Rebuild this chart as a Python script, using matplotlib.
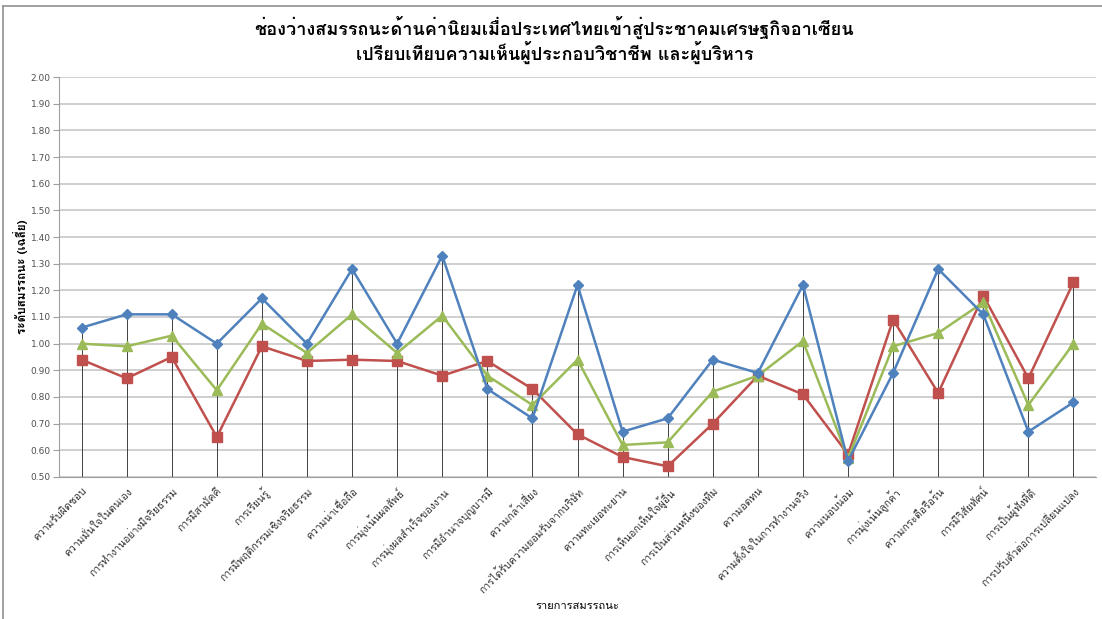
import matplotlib
matplotlib.use("Agg")
import matplotlib.pyplot as plt
from matplotlib import font_manager
from matplotlib.ft2font import FT2Font
from matplotlib.lines import Line2D
import numpy as np


def find_thai_font():
    # look for an installed font that covers the Thai block
    for f in font_manager.fontManager.ttflist:
        try:
            cmap = FT2Font(f.fname).get_charmap()
        except Exception:
            continue
        if 0x0E01 in cmap and 0x0E2D in cmap:
            return f.name
    return None


thai = find_thai_font()
families = ([thai] if thai else []) + ["DejaVu Sans"]
plt.rcParams["font.family"] = families

competencies = [
    "ความรับผิดชอบ", "ความมั่นใจในตนเอง", "การทำงานอย่างมีจริยธรรม", "การมีสามัคคี",
    "การเรียนรู้", "การมีพฤติกรรมเชิงจริยธรรม", "ความน่าเชื่อถือ", "การมุ่งเน้นผลลัพธ์",
    "การมุ่งผลสำเร็จของงาน", "การมีอำนาจบุญบารมี", "ความกล้าเสี่ยง",
    "การได้รับความยอมรับจากบริษัท", "ความทะเยอทะยาน", "การเห็นอกเห็นใจผู้อื่น",
    "การเป็นส่วนหนึ่งของทีม", "ความอดทน", "ความตั้งใจในการทำงานจริง", "ความนอบน้อม",
    "การมุ่งเน้นลูกค้า", "ความกระตือรือร้น", "การมีวิสัยทัศน์", "การเป็นผู้ฟังที่ดี",
    "การปรับตัวต่อการเปลี่ยนแปลง",
]

series_blue = [1.06, 1.11, 1.11, 1.00, 1.17, 1.00, 1.28, 1.00, 1.33, 0.83, 0.72, 1.22,
               0.67, 0.72, 0.94, 0.89, 1.22, 0.56, 0.89, 1.28, 1.11, 0.67, 0.78]
series_red = [0.94, 0.87, 0.95, 0.65, 0.99, 0.935, 0.94, 0.935, 0.88, 0.935, 0.83, 0.66,
              0.575, 0.54, 0.70, 0.88, 0.81, 0.585, 1.09, 0.815, 1.18, 0.87, 1.23]
series_green = [1.00, 0.99, 1.03, 0.825, 1.075, 0.965, 1.11, 0.965, 1.105, 0.88, 0.77, 0.94,
                0.62, 0.63, 0.82, 0.88, 1.01, 0.57, 0.99, 1.04, 1.155, 0.77, 1.00]

yticks = np.round(np.arange(0.5, 2.001, 0.1), 2)

fig = plt.figure(figsize=(11.02, 6.19), dpi=100)
ax = fig.add_axes([59 / 1102, 1 - 477 / 619, (1096 - 59) / 1102, (477 - 77) / 619])

x = np.arange(len(competencies))

# drop lines from the top point of each category down to the axis
tops = np.max([series_blue, series_red, series_green], axis=0)
ax.vlines(x, 0.5, tops, color="#404040", lw=0.7, zorder=2)

ax.plot(x, series_blue, color="#4F81BD", lw=1.8, marker="D", ms=5, zorder=4)
ax.plot(x, series_red, color="#C0504D", lw=1.8, marker="s", ms=7, zorder=3)
ax.plot(x, series_green, color="#9BBB59", lw=1.8, marker="^", ms=7, zorder=3)

ax.set_xlim(-0.5, len(competencies) - 0.5)
ax.set_ylim(0.5, 2.0)
ax.set_yticks(yticks)
ax.set_yticklabels(["%.2f" % v for v in yticks], fontsize=6.5, color="#505050",
                   family=["DejaVu Sans"])
ax.yaxis.grid(True, color="#cccccc", lw=1.3)
ax.set_axisbelow(True)
ax.tick_params(axis="y", length=4, color="#a0a0a0", pad=2)

ax.set_xticks(x)
ax.set_xticklabels(competencies, rotation=45, ha="right", rotation_mode="anchor",
                   fontsize=7.5, color="#303030")
ax.tick_params(axis="x", length=0, pad=6)

for side in ["top", "right"]:
    ax.spines[side].set_visible(False)
ax.spines["left"].set_color("#a0a0a0")
ax.spines["bottom"].set_color("#a0a0a0")

ax.set_ylabel("ระดับสมรรถนะ (เฉลี่ย)", fontsize=8.5, fontweight="bold")
ax.yaxis.set_label_coords(-0.030, 0.5)
ax.set_xlabel("รายการสมรรถนะ", fontsize=8)
ax.xaxis.set_label_coords(0.5, -0.31)

fig.text(0.503, 0.955, "ช่องว่างสมรรถนะด้านค่านิยมเมื่อประเทศไทยเข้าสู่ประชาคมเศรษฐกิจอาเซียน",
         ha="center", va="center", fontsize=13, fontweight="bold")
fig.text(0.503, 0.915, "เปรียบเทียบความเห็นผู้ประกอบวิชาชีพ และผู้บริหาร",
         ha="center", va="center", fontsize=13, fontweight="bold")

# outer frame on the top and left edges
fig.add_artist(Line2D([3 / 1102, 3 / 1102], [0, 1 - 6 / 619], color="#909090", lw=1.2))
fig.add_artist(Line2D([3 / 1102, 1], [1 - 6 / 619, 1 - 6 / 619], color="#909090", lw=1.2))

fig.savefig("out.png", dpi=100)
